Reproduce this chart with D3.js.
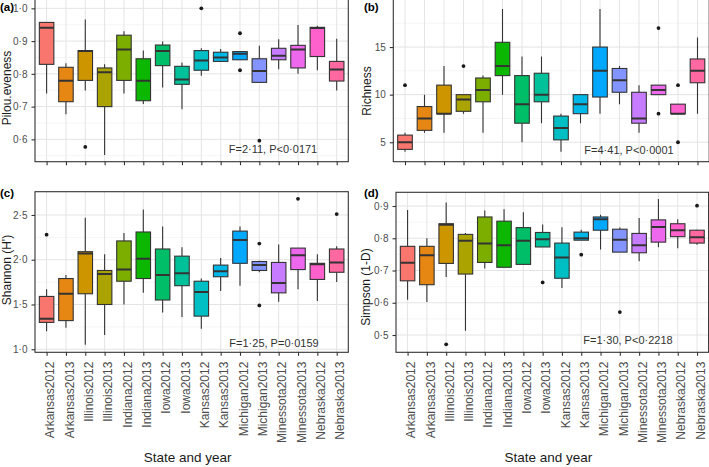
<!DOCTYPE html>
<html>
<head>
<meta charset="utf-8">
<script src="https://cdn.jsdelivr.net/npm/d3@7"></script>
<style>
  html, body { margin: 0; padding: 0; background: #ffffff; }
  svg { display: block; }
  text { font-family: "Liberation Sans", Arial, Helvetica, sans-serif; }
</style>
</head>
<body>
<svg id="chart" width="709" height="467"></svg>
<script>
// ---------------- DATA ----------------
const categories = ["Arkansas2012","Arkansas2013","Illinois2012","Illinois2013","Indiana2012","Indiana2013",
  "Iowa2012","Iowa2013","Kansas2012","Kansas2013","Michigan2012","Michigan2013",
  "Minessota2012","Minessota2013","Nebraska2012","Nebraska2013"];

const fillColors = ["#F8766D","#E68613","#CD9600","#ABA300","#7CAE00","#0CB702","#00BE67","#00C19A",
  "#00BFC4","#00B8E7","#00A9FF","#8494FF","#C77CFF","#ED68ED","#FF61CC","#FF68A1"];

// [lower whisker, Q1, median, Q3, upper whisker]
const pielou = [
  [0.740,0.829,0.941,0.957,0.957],[0.677,0.715,0.779,0.820,0.832],[0.749,0.780,0.870,0.871,0.966],
  [0.552,0.700,0.805,0.818,0.829],[0.740,0.780,0.874,0.918,0.930],[0.708,0.718,0.779,0.846,0.871],
  [0.758,0.825,0.870,0.888,0.899],[0.692,0.768,0.783,0.823,0.835],[0.794,0.811,0.841,0.871,0.878],
  [0.838,0.838,0.850,0.866,0.876],[0.843,0.843,0.861,0.868,0.870],[0.774,0.774,0.809,0.846,0.886],
  [0.814,0.843,0.855,0.878,0.906],[0.800,0.818,0.874,0.887,0.949],[0.811,0.853,0.940,0.942,0.947],
  [0.749,0.778,0.813,0.838,0.907]];
const pielouOutliers = [[2,0.577],[8,1.0],[10,0.924],[10,0.811],[11,0.596]];

const richness = [
  [4,4.25,5,5.75,6],[6,6.25,7.5,8.75,10],[6,8,8,11,13],[8,8.25,9.5,10,10],[6,9.25,10.5,11.75,12],
  [10,12,13,15.5,19],[5,7,9,12,14],[7,9.25,10,12.25,14],[4,5.25,6.5,7.75,8],[7,8,9,10,10],
  [8,9.75,12.5,15,19],[9,10.25,11.5,12.75,13],[6,7,7.5,10.25,11],[10,10,10.5,11,11],[8,8,8,9,9],
  [8,11.25,12.5,13.75,16]];
const richnessOutliers = [[0,11],[3,13],[13,17],[13,8],[14,11],[14,5]];

const shannon = [
  [1.20,1.30,1.34,1.59,1.67],[1.24,1.32,1.62,1.79,1.83],[1.05,1.62,2.07,2.09,2.47],
  [1.16,1.50,1.84,1.88,2.06],[1.50,1.76,1.89,2.21,2.30],[1.63,1.79,2.01,2.31,2.56],
  [1.41,1.55,1.83,2.12,2.37],[1.36,1.71,1.85,2.04,2.14],[1.23,1.37,1.64,1.76,1.79],
  [1.65,1.81,1.87,1.94,2.02],[1.71,1.96,2.22,2.32,2.37],[1.86,1.88,1.94,1.98,1.99],
  [1.53,1.63,1.74,1.97,2.17],[1.67,1.89,2.05,2.13,2.13],[1.54,1.78,1.95,1.96,2.06],
  [1.75,1.86,1.97,2.12,2.15]];
const shannonOutliers = [[0,2.28],[11,2.18],[11,1.49],[13,2.68],[15,2.51]];

const simpson = [
  [0.609,0.668,0.724,0.775,0.888],[0.602,0.656,0.747,0.775,0.800],[0.680,0.722,0.842,0.845,0.911],
  [0.513,0.689,0.792,0.812,0.816],[0.706,0.725,0.784,0.866,0.886],[0.710,0.710,0.778,0.853,0.890],
  [0.719,0.719,0.792,0.833,0.881],[0.773,0.773,0.797,0.818,0.843],[0.646,0.676,0.740,0.785,0.834],
  [0.794,0.794,0.800,0.819,0.826],[0.765,0.825,0.859,0.866,0.873],[0.757,0.757,0.795,0.828,0.833],
  [0.729,0.755,0.778,0.815,0.863],[0.772,0.788,0.835,0.857,0.922],[0.769,0.805,0.825,0.845,0.859],
  [0.780,0.785,0.803,0.825,0.826]];
const simpsonOutliers = [[2,0.471],[7,0.663],[9,0.749],[11,0.571],[15,0.901]];

const pielouTicks = [0.6,0.7,0.8,0.9,1.0];
const richnessTicks = [5,10,15];
const shannonTicks = [1.0,1.5,2.0,2.5];
const simpsonTicks = [0.5,0.6,0.7,0.8,0.9];

const statTexts = ["F=2·11, P<0·0171","F=4·41, P<0·0001","F=1·25, P=0·0159","F=1·30, P<0·2218"];
const yTitles = ["Pilou.eveness","Richness","Shannon (H')","Simpson (1-D)"];
const panelLabels = ["(a)","(b)","(c)","(d)"];
const xTitle = "State and year";

// ---------------- LAYOUT ----------------
const panels = [
  {data: pielou, out: pielouOutliers, ticks: pielouTicks, dec: 1, dom: [0.5318, 1.0285],
   x0: 35, x1: 348.3, y0: -1, y1: 161.7, titleX: 6.5, titleY: 88, noteX: 273, noteY: 153,
   labelX: 0, labelY: 11, showX: false},
  {data: richness, out: richnessOutliers, ticks: richnessTicks, dec: 0, dom: [2.955, 20.05],
   x0: 393.3, x1: 709.2, y0: -1, y1: 161.7, titleX: 367, titleY: 91, noteX: 629, noteY: 154,
   labelX: 364, labelY: 11, showX: false},
  {data: shannon, out: shannonOutliers, ticks: shannonTicks, dec: 1, dom: [0.966, 2.760],
   x0: 35, x1: 348.3, y0: 191.7, y1: 352.3, titleX: 7, titleY: 270, noteX: 274, noteY: 346.5,
   labelX: 0, labelY: 197, showX: true},
  {data: simpson, out: simpsonOutliers, ticks: simpsonTicks, dec: 1, dom: [0.4464, 0.9425],
   x0: 396, x1: 708.6, y0: 192.3, y1: 352.3, titleX: 366, titleY: 287, noteX: 628, noteY: 343.5,
   labelX: 364, labelY: 197, showX: true}
];

const svg = d3.select("#chart");

function fmt(v, dec) {
  return d3.format("." + dec + "f")(v).replace(".", "\u00B7");
}

panels.forEach((p, pi) => {
  const g = svg.append("g");
  const x = d3.scalePoint().domain(categories).range([p.x0, p.x1]).padding(0.6);
  const y = d3.scaleLinear().domain(p.dom).range([p.y1, p.y0]);
  const step = x.step();
  const bw = step * 0.75;

  const clipId = "clip" + pi;
  svg.append("clipPath").attr("id", clipId).append("rect")
    .attr("x", p.x0).attr("y", p.y0).attr("width", p.x1 - p.x0).attr("height", p.y1 - p.y0);

  const grid = g.append("g").attr("clip-path", `url(#${clipId})`);
  const t = p.ticks, d = t[1] - t[0];
  const minors = [];
  for (let v = t[0] - d / 2; v <= p.dom[1]; v += d) {
    if (v > p.dom[0] + (p.dom[1]-p.dom[0])*0.01 && v < p.dom[1] - (p.dom[1]-p.dom[0])*0.01) minors.push(v);
  }
  grid.selectAll(".minor").data(minors).enter().append("line")
    .attr("x1", p.x0).attr("x2", p.x1)
    .attr("y1", v => y(v)).attr("y2", v => y(v))
    .attr("stroke", "#f1f1f1").attr("stroke-width", 0.7);
  grid.selectAll(".major").data(p.ticks).enter().append("line")
    .attr("x1", p.x0).attr("x2", p.x1)
    .attr("y1", v => y(v)).attr("y2", v => y(v))
    .attr("stroke", "#e4e4e4").attr("stroke-width", 1);
  grid.selectAll(".vmajor").data(categories).enter().append("line")
    .attr("x1", c => x(c)).attr("x2", c => x(c))
    .attr("y1", p.y0).attr("y2", p.y1)
    .attr("stroke", "#e4e4e4").attr("stroke-width", 1);

  const boxes = g.append("g").attr("clip-path", `url(#${clipId})`);
  p.data.forEach((s, i) => {
    const cx = x(categories[i]);
    boxes.append("line").attr("x1", cx).attr("x2", cx).attr("y1", y(s[4])).attr("y2", y(s[3]))
      .attr("stroke", "#333333").attr("stroke-width", 1.1);
    boxes.append("line").attr("x1", cx).attr("x2", cx).attr("y1", y(s[1])).attr("y2", y(s[0]))
      .attr("stroke", "#333333").attr("stroke-width", 1.1);
    boxes.append("rect").attr("x", cx - bw / 2).attr("width", bw)
      .attr("y", y(s[3])).attr("height", Math.max(0.5, y(s[1]) - y(s[3])))
      .attr("fill", fillColors[i]).attr("stroke", "#333333").attr("stroke-width", 1.1);
    boxes.append("line").attr("x1", cx - bw / 2).attr("x2", cx + bw / 2)
      .attr("y1", y(s[2])).attr("y2", y(s[2]))
      .attr("stroke", "#333333").attr("stroke-width", 2);
  });
  boxes.selectAll(".out").data(p.out).enter().append("circle")
    .attr("cx", d => x(categories[d[0]])).attr("cy", d => y(d[1])).attr("r", 1.9)
    .attr("fill", "#1a1a1a");

  g.append("rect").attr("x", p.x0).attr("y", p.y0).attr("width", p.x1 - p.x0).attr("height", p.y1 - p.y0)
    .attr("fill", "none").attr("stroke", "#333333").attr("stroke-width", 1.1);

  const yAxis = d3.axisLeft(y).tickValues(p.ticks).tickSize(3.5).tickPadding(4)
    .tickFormat(v => fmt(v, p.dec));
  const ya = g.append("g").attr("transform", `translate(${p.x0},0)`).call(yAxis);
  ya.select(".domain").remove();
  ya.selectAll(".tick line").attr("stroke", "#333333").attr("stroke-width", 1.1);
  ya.selectAll(".tick text").attr("fill", "#4d4d4d").style("font-size", "10px")
    .style("font-family", '"Liberation Sans", Arial, sans-serif');

  const xAxis = d3.axisBottom(x).tickSize(3.5).tickFormat(p.showX ? (c => c) : (() => ""));
  const xa = g.append("g").attr("transform", `translate(0,${p.y1})`).call(xAxis);
  xa.select(".domain").remove();
  xa.selectAll(".tick line").attr("stroke", "#333333").attr("stroke-width", 1.1);
  if (p.showX) {
    xa.selectAll(".tick text")
      .attr("transform", "translate(3,9.3) rotate(-90)")
      .attr("x", 0).attr("y", 0).attr("dy", "0.35em")
      .attr("text-anchor", "end")
      .attr("fill", "#4d4d4d").style("font-size", "12px")
      .style("font-family", '"Liberation Sans", Arial, sans-serif');
    svg.append("text").attr("x", (p.x0 + p.x1) / 2 - 4).attr("y", 461.5)
      .attr("text-anchor", "middle").attr("fill", "#1a1a1a").style("font-size", "13.5px")
      .text(xTitle);
  } else {
    xa.selectAll(".tick text").remove();
  }

  svg.append("text").attr("transform", `translate(${p.titleX + 4},${p.titleY}) rotate(-90)`)
    .attr("text-anchor", "middle").attr("fill", "#1a1a1a").style("font-size", "12px")
    .text(yTitles[pi]);

  svg.append("text").attr("x", p.noteX).attr("y", p.noteY).attr("text-anchor", "middle")
    .attr("fill", "#333333").style("font-size", "11px").text(statTexts[pi]);

  svg.append("text").attr("x", p.labelX).attr("y", p.labelY)
    .attr("fill", "#000000").style("font-size", "11.5px").style("font-weight", "bold")
    .text(panelLabels[pi]);
});
</script>
</body>
</html>
